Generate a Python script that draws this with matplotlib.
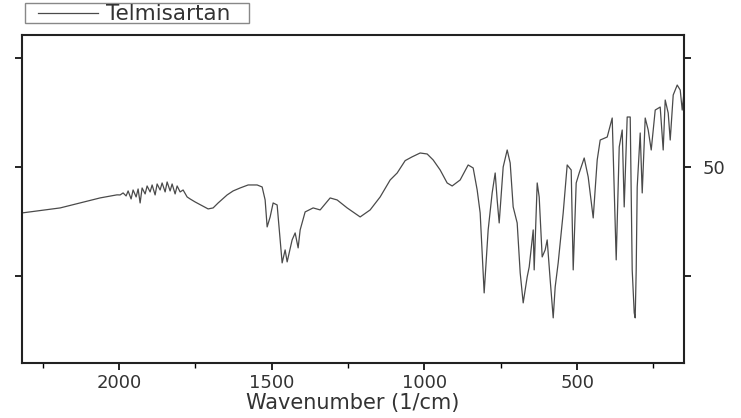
import matplotlib
matplotlib.use("Agg")
import matplotlib.pyplot as plt
from matplotlib.lines import Line2D
from matplotlib.patches import Rectangle
from matplotlib.ticker import FixedLocator

plt.rcParams['font.family'] = ['DejaVu Sans']

# wavenumber (1/cm) and transmittance, left to right
wavenumber = [
    2317.7, 2193.0, 2062.0, 2007.0,
    1996.7, 1986.9, 1977.1, 1970.5, 1960.7, 1954.2, 1944.3, 1937.8, 1931.2,
    1924.7, 1914.8, 1908.3, 1898.5, 1891.9, 1882.1, 1875.5, 1865.7, 1859.2,
    1849.3, 1842.8, 1833.0, 1826.4, 1816.6, 1810.0, 1800.2, 1790.4, 1777.3,
    1767.5, 1751.1, 1708.5, 1692.1, 1675.7, 1646.3, 1626.6, 1603.7, 1577.5,
    1548.0, 1531.6, 1521.8,
    1515.2, 1505.4, 1495.6, 1482.5, 1466.1, 1456.3, 1449.7, 1433.4, 1423.5,
    1413.7, 1407.1, 1390.8, 1364.6, 1341.6, 1308.9, 1286.0, 1253.2, 1210.6,
    1177.9, 1145.1, 1112.3, 1089.4, 1063.2, 1040.3, 1014.1, 991.1, 971.5,
    948.6, 925.7, 909.3, 883.1, 856.9,
    840.5, 827.4, 817.6, 804.5, 791.4, 778.3, 768.4, 761.9, 755.3, 742.2,
    729.1, 719.3, 709.5, 696.4, 686.5, 676.7, 663.6, 657.0, 643.9, 640.7,
    630.8, 624.3, 614.5, 604.7, 598.1, 588.3, 578.4, 571.9, 562.1, 545.7,
    532.6, 519.5, 512.9, 503.1, 493.3, 476.9, 463.8, 447.4, 434.3, 424.5,
    401.5, 385.2, 372.1, 362.2, 352.4, 345.9, 336.1, 326.2, 319.7, 313.1,
    309.9, 306.6, 303.3, 293.5, 286.9, 277.1, 267.3, 257.4, 244.3, 228.0,
    218.2, 211.6, 201.8, 195.2, 185.4, 172.3, 162.4, 155.9, 149.3,
]
transmittance = [
    39.45, 40.6, 42.9, 43.6,
    43.58, 44.04, 43.35, 44.50, 42.66, 44.72, 43.12, 44.95, 41.74,
    45.18, 43.81, 45.64, 44.27, 45.87, 43.58, 46.10, 44.72, 46.33,
    44.27, 46.56, 44.50, 46.10, 43.81, 45.64, 44.27, 44.72, 43.12,
    42.66, 41.97, 40.37, 40.60, 41.74, 43.58, 44.50, 45.18, 45.87,
    45.87, 45.41, 42.43,
    36.24, 38.53, 41.74, 41.28, 27.98, 30.96, 28.21, 33.26, 34.86,
    31.42, 35.55, 39.68, 40.60, 40.14, 42.89, 42.43, 40.60, 38.53,
    40.14, 43.12, 47.02, 48.62, 51.46, 52.33, 53.21, 52.98, 51.61,
    49.31, 46.33, 45.64, 47.02, 50.46,
    49.77, 44.72, 39.45, 21.09, 35.55, 44.04, 48.62, 42.43, 37.15, 50.00,
    53.90, 50.92, 40.83, 37.15, 25.68, 18.80, 24.77, 27.06, 35.55, 26.37,
    46.33, 43.12, 29.35, 30.96, 33.26, 24.08, 15.36, 22.47, 27.98, 39.45,
    50.46, 49.31, 26.37, 46.33, 48.62, 52.06, 47.71, 38.30, 51.61, 56.19,
    56.88, 61.24, 28.67, 54.59, 58.49, 40.83, 61.47, 61.47, 26.37, 16.51,
    15.36, 26.37, 45.41, 57.80, 44.04, 61.24, 58.49, 53.90, 63.07, 63.76,
    53.90, 65.37, 62.39, 56.19, 66.52, 68.81, 67.66, 63.07, 67.66,
]

fig = plt.figure(figsize=(7.41, 4.18), dpi=100)
ax = fig.add_axes([0.0297, 0.1316, 0.8934, 0.7847])

ax.plot(wavenumber, transmittance, color='#4a4a4a', lw=0.9)

ax.set_xlim(2318, 150)
ax.set_ylim(5.0, 80.3)

ax.xaxis.set_major_locator(FixedLocator([2000, 1500, 1000, 500]))
ax.xaxis.set_minor_locator(FixedLocator([2250, 1750, 1250, 750, 250]))
ax.yaxis.set_major_locator(FixedLocator([25, 50, 75]))

ax.tick_params(axis='x', which='major', direction='out', length=5, width=1.2,
               labelsize=13, labelcolor='#333333', pad=3)
ax.tick_params(axis='x', which='minor', direction='out', length=3.5, width=1.0)
ax.tick_params(axis='y', which='major', direction='out', length=5, width=1.2,
               left=True, right=True, labelleft=False, labelright=True,
               labelsize=13, labelcolor='#333333', pad=8)
ax.set_yticklabels(['', '50', ''])

for s in ax.spines.values():
    s.set_linewidth(1.5)
    s.set_color('#222222')

ax.set_xlabel('Wavenumber (1/cm)', fontsize=15, color='#333333', labelpad=1)

# legend box drawn by hand, sitting above the plot frame
W, H = 741.0, 418.0
fig.add_artist(Rectangle((25 / W, 1 - 23 / H), 224 / W, 20 / H,
                         transform=fig.transFigure, fill=False,
                         edgecolor='#888888', lw=1.0))
fig.add_artist(Line2D([38 / W, 98 / W], [1 - 13 / H, 1 - 13 / H],
                      transform=fig.transFigure, color='#4a4a4a', lw=0.9))
fig.text(106 / W, 1 - 13.5 / H, 'Telmisartan', fontsize=15.5,
         color='#333333', ha='left', va='center')

fig.savefig('out.png', dpi=100)
